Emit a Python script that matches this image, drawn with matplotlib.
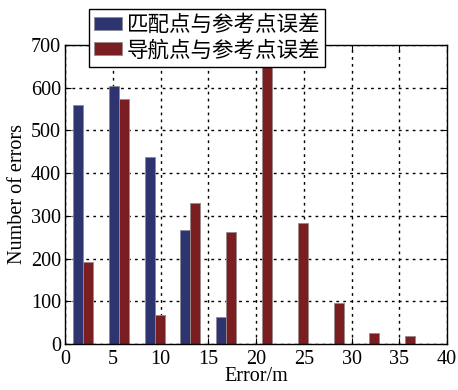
import numpy as np
import matplotlib
matplotlib.use('Agg')
import matplotlib.pyplot as plt

# bin centres (m) and counts
bin_centers = [1.875, 5.625, 9.375, 13.125, 16.875, 20.625, 24.375, 28.125, 31.875, 35.625]
match_err = [560, 604, 437, 266, 62, 0, 0, 0, 0, 0]
nav_err = [192, 573, 68, 330, 262, 720, 282, 97, 25, 19]
labels = ['匹配点与参考点误差', '导航点与参考点误差']

plt.rcParams['font.family'] = ['Liberation Serif', 'Noto Sans CJK SC']
plt.rcParams['font.size'] = 14

fig = plt.figure(figsize=(4.58, 3.9), dpi=100)
ax = fig.add_axes([0.142, 0.118, 0.834, 0.767])

x = np.array(bin_centers)
w = 1.05
ax.bar(x - w/2, match_err, width=w, color='#2d3470', edgecolor='#8a8a9a', linewidth=0.6, label=labels[0], zorder=2)
ax.bar(x + w/2, nav_err, width=w, color='#7a1e22', edgecolor='#9a8a8a', linewidth=0.6, label=labels[1], zorder=2)

ax.set_xlim(0, 40)
ax.set_ylim(0, 700)
ax.set_xticks(range(0, 41, 5))
ax.set_yticks(range(0, 701, 100))
ax.grid(True, color='black', linestyle=(0, (2, 3)), linewidth=1.0)
ax.set_axisbelow(True)
ax.tick_params(direction='in', length=4, top=True, right=True, labelsize=14.5)
ax.tick_params(axis='x', pad=4)
ax.tick_params(axis='y', pad=3)
for s in ax.spines.values():
    s.set_linewidth(1.0)

ax.set_xlabel('Error/m', fontsize=14.5, labelpad=-1)
ax.set_ylabel('Number of errors', fontsize=14.5, labelpad=3)

leg = fig.legend(loc='upper left', bbox_to_anchor=(0.194, 0.978), frameon=True, fancybox=False,
                 edgecolor='black', framealpha=1,
                 prop={'family': ['Noto Sans CJK SC'], 'size': 15.5, 'weight': 'light'},
                 handlelength=1.3, handleheight=0.55, handletextpad=0.2, borderpad=0.25, labelspacing=0.15,
                 borderaxespad=0)
leg.get_frame().set_linewidth(1.0)
leg.set_zorder(10)

fig.savefig('out.png', dpi=100)
